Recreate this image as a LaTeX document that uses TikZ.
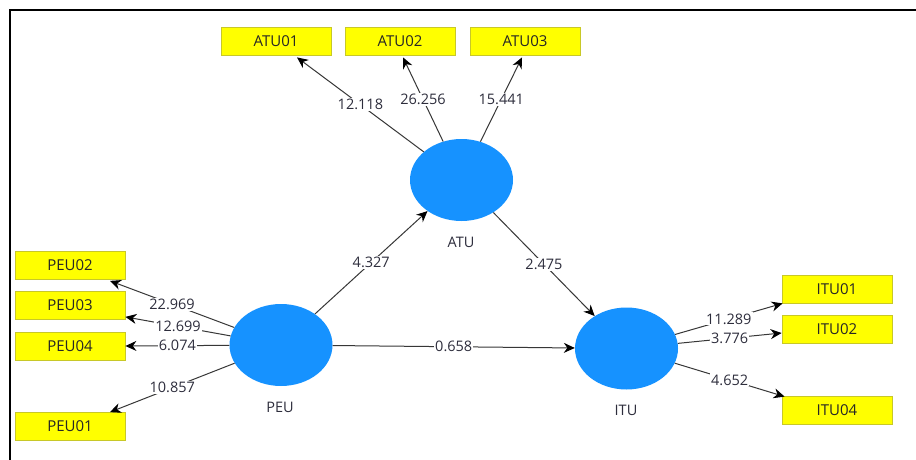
\documentclass[tikz,border=0pt]{standalone}
\usepackage{fontspec}
\setmainfont{Open Sans}
\usetikzlibrary{arrows.meta,shapes.geometric}
\definecolor{lvblue}{RGB}{22,146,255}
\definecolor{indyellow}{RGB}{255,255,0}
\definecolor{indborder}{RGB}{200,200,40}
\definecolor{pathgray}{RGB}{55,55,55}
\definecolor{valtext}{RGB}{45,45,60}
\begin{document}
\begin{tikzpicture}[x=1pt,y=-1pt,
  latent/.style={ellipse, fill=lvblue, minimum width=103pt, minimum height=82pt, inner sep=0pt},
  indicator/.style={rectangle, fill=indyellow, draw=indborder, line width=0.8pt,
    minimum width=110pt, minimum height=28pt, inner sep=0pt,
    font=\fontsize{15}{17}\selectfont, text=black!85},
  lvname/.style={font=\fontsize{14.5}{16}\selectfont, text=valtext},
  pathline/.style={draw=pathgray, line width=1pt, -{Stealth[length=11pt,width=10pt,color=black]}},
  coef/.style={midway, fill=white, inner sep=1.2pt, font=\fontsize{14.5}{16}\selectfont, text=valtext}
]
\useasboundingbox (0,0) rectangle (916,460);
\fill[white] (0,0) rectangle (916,460);
% frame
\draw[line width=2pt] (10,460) -- (10,10) -- (916,10);

% latent variables
\node[latent] (atu) at (461.5,180) {};
\node[latent] (peu) at (281,345) {};
\node[latent] (itu) at (626.5,348.5) {};
\node[lvname] (atuname) at (461,242) {ATU};
\node[lvname] (peuname) at (280,407) {PEU};
\node[lvname] (ituname) at (626,410) {ITU};

% indicators
\node[indicator] (atu01) at (276,41) {ATU01};
\node[indicator] (atu02) at (400,41) {ATU02};
\node[indicator] (atu03) at (525,41) {ATU03};
\node[indicator] (peu02) at (70,265.5) {PEU02};
\node[indicator] (peu03) at (70,305.5) {PEU03};
\node[indicator] (peu04) at (70,346) {PEU04};
\node[indicator] (peu01) at (70,426.5) {PEU01};
\node[indicator] (itu01) at (837,289) {ITU01};
\node[indicator] (itu02) at (837,329) {ITU02};
\node[indicator] (itu04) at (837,410) {ITU04};

% outer loadings
\draw[pathline] (atu) -- node[coef]{12.118} ([xshift=21pt,yshift=-2pt]atu01.south);
\draw[pathline] (atu) -- node[coef]{26.256} ([xshift=3pt,yshift=-2pt]atu02.south);
\draw[pathline] (atu) -- node[coef]{15.441} ([xshift=-3pt,yshift=-2pt]atu03.south);

\draw[pathline] (peu) -- node[coef]{22.969} ([xshift=40pt,yshift=-1pt]peu02.south);
\draw[pathline] (peu) -- node[coef]{12.699} ([yshift=3pt]peu03.south east);
\draw[pathline] (peu) -- node[coef]{6.074} (peu04.east);
\draw[pathline] (peu) -- node[coef]{10.857} ([xshift=40pt]peu01.north);

\draw[pathline] (itu) -- node[coef]{11.289} ([xshift=1pt]itu01.south west);
\draw[pathline] (itu) -- node[coef]{3.776} ([yshift=-4pt]itu02.west);
\draw[pathline] (itu) -- node[coef]{4.652} ([xshift=3pt,yshift=-1pt]itu04.north west);

% structural paths
\draw[pathline] (peu) -- node[coef]{4.327} (atu);
\draw[pathline] (atu) -- node[coef]{2.475} (itu);
\draw[pathline] (peu) -- node[coef]{0.658} (itu);
\end{tikzpicture}
\end{document}
